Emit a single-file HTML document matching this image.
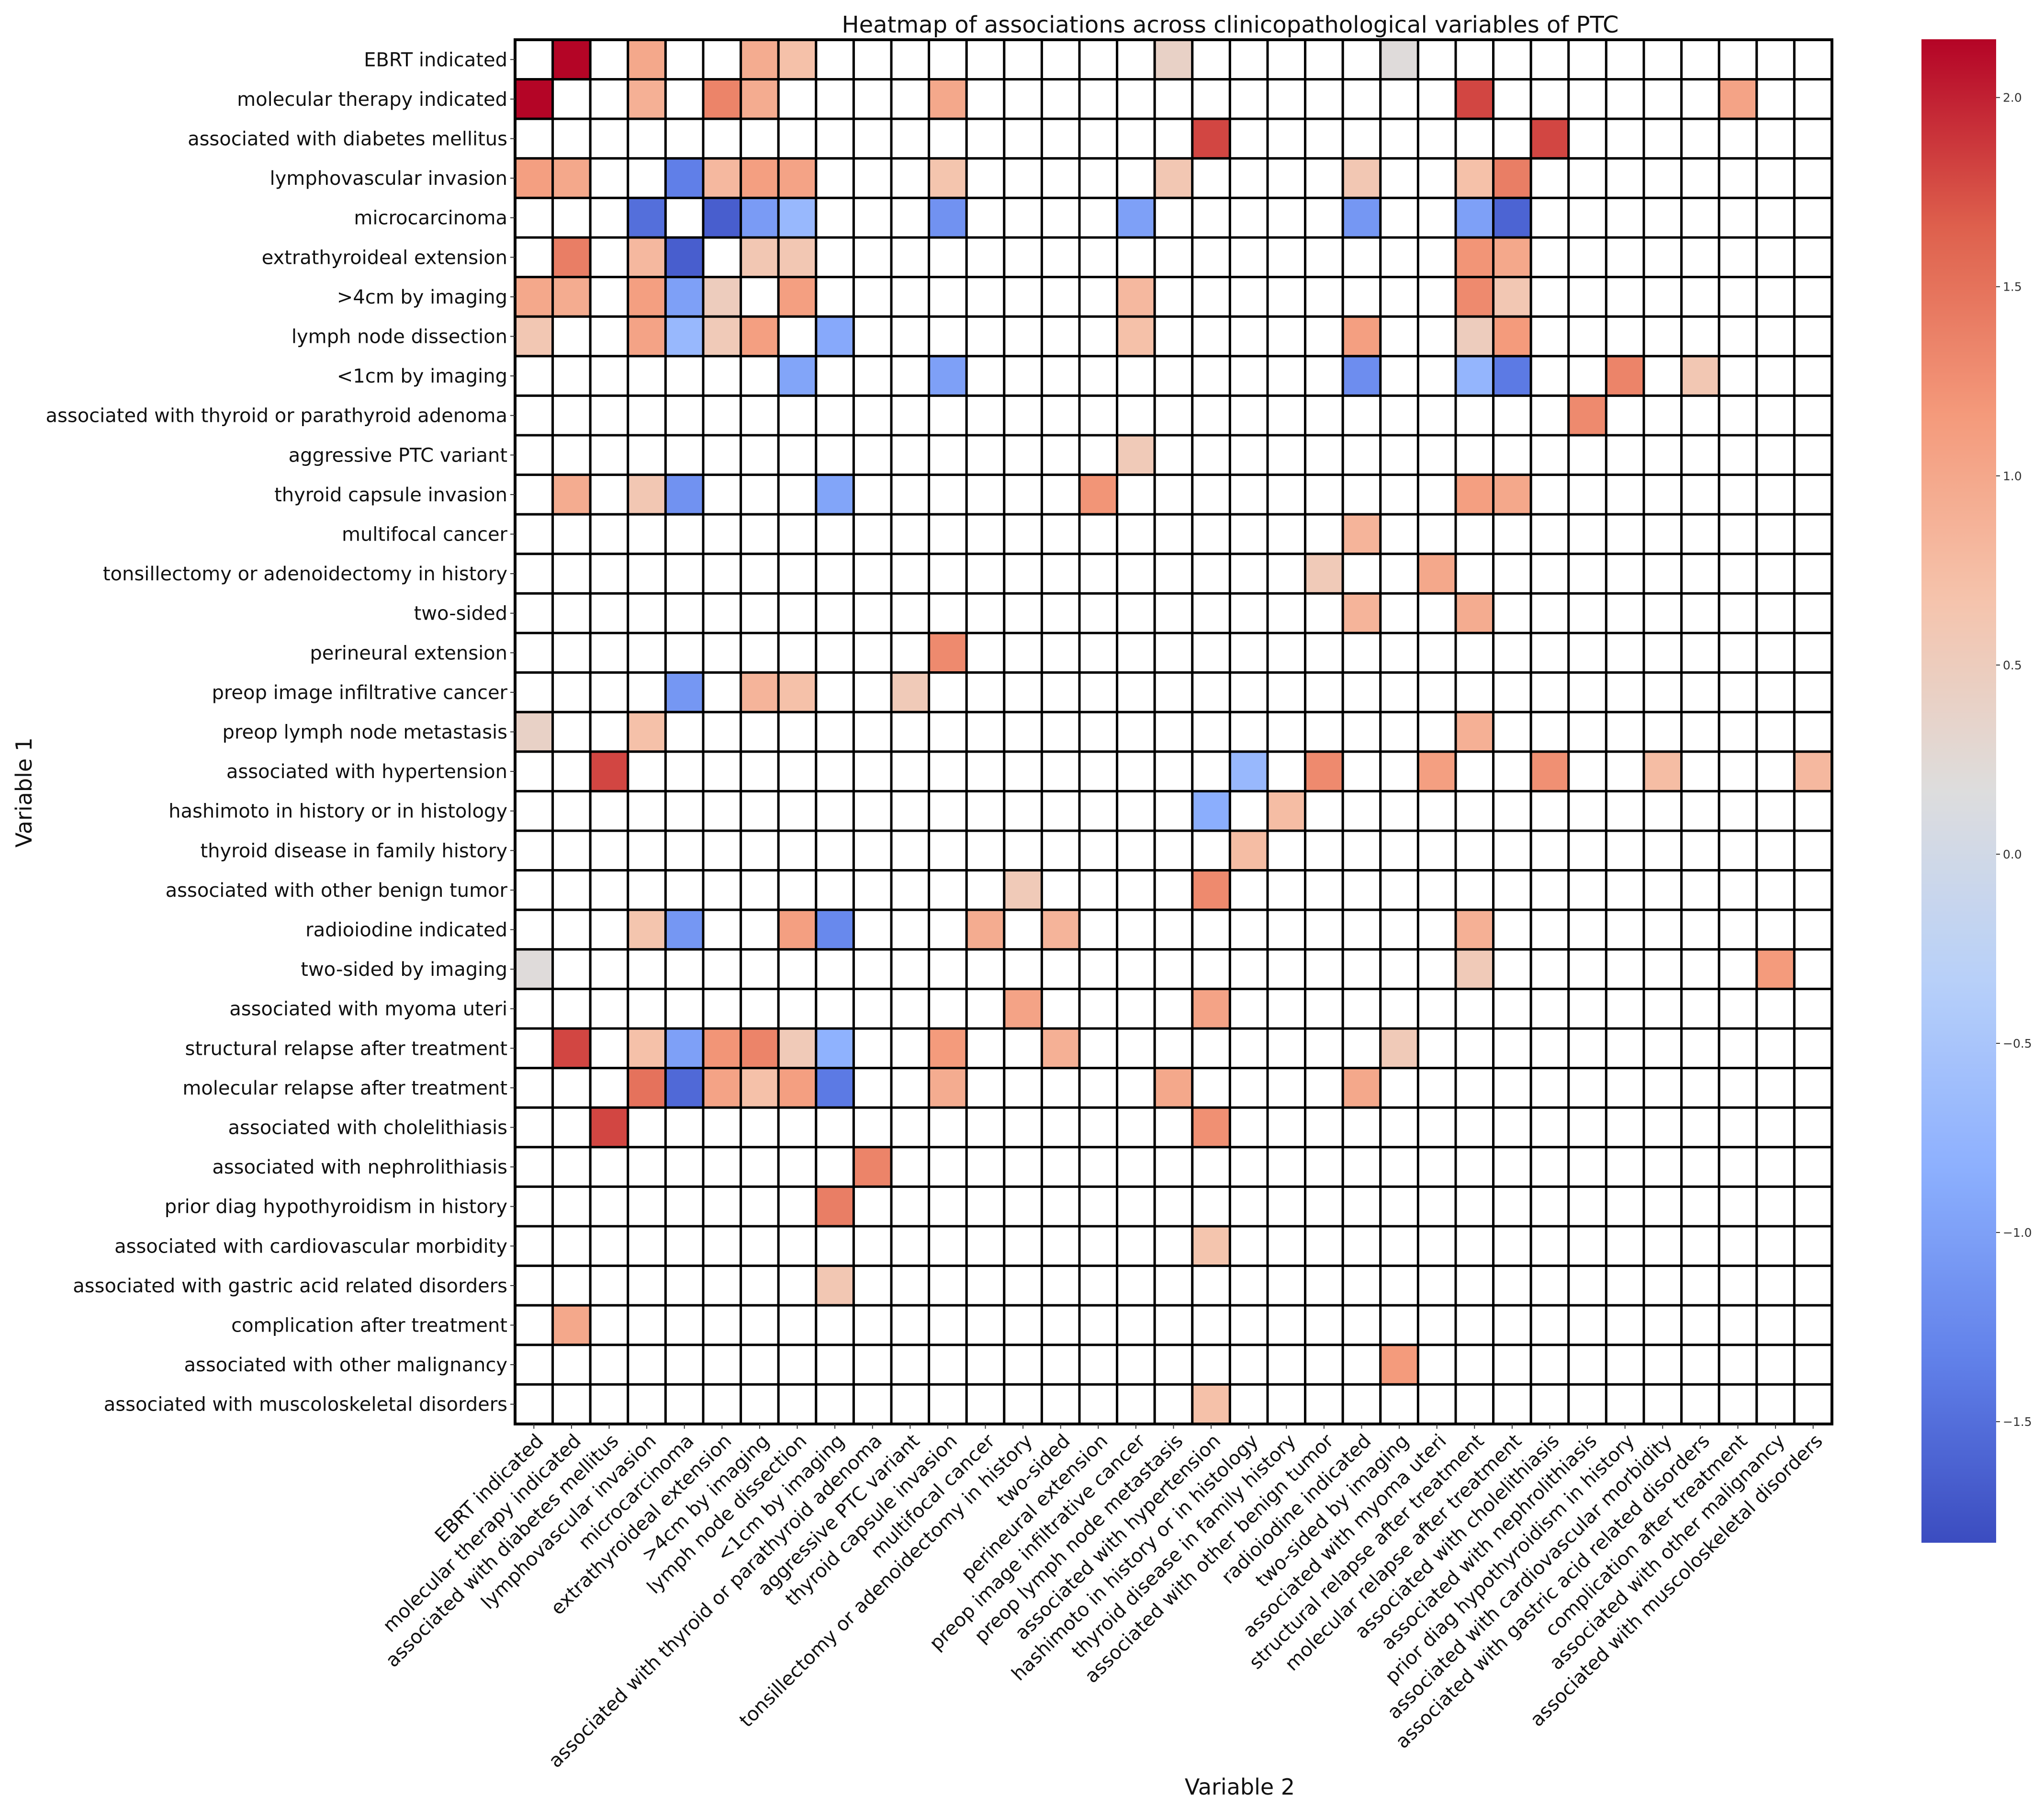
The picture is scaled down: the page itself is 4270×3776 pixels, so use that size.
<!DOCTYPE html>
<html><head><meta charset="utf-8">
<style>
html,body{margin:0;padding:0;background:#fff;}
svg{display:block;font-family:"DejaVu Sans","Liberation Sans",sans-serif;}
</style></head>
<body>
<svg id="chart" width="4270" height="3776" viewBox="0 0 4270 3776" xmlns="http://www.w3.org/2000/svg">
<text x="2570" y="68" font-size="48" text-anchor="middle" fill="#111">Heatmap of associations across clinicopathological variables of PTC</text>
<text x="2590" y="3748" font-size="46" text-anchor="middle" fill="#111">Variable 2</text>
<text x="0" y="0" font-size="46" text-anchor="middle" fill="#111" transform="translate(66,1655) rotate(-90)">Variable 1</text>
<g id="cells"></g>
<g id="ylabels"></g>
<g id="xlabels"></g>
<g id="cbar"></g>
</svg>
<script>
const labels = ["EBRT indicated","molecular therapy indicated","associated with diabetes mellitus","lymphovascular invasion","microcarcinoma","extrathyroideal extension",">4cm by imaging","lymph node dissection","<1cm by imaging","associated with thyroid or parathyroid adenoma","aggressive PTC variant","thyroid capsule invasion","multifocal cancer","tonsillectomy or adenoidectomy in history","two-sided","perineural extension","preop image infiltrative cancer","preop lymph node metastasis","associated with hypertension","hashimoto in history or in histology","thyroid disease in family history","associated with other benign tumor","radioiodine indicated","two-sided by imaging","associated with myoma uteri","structural relapse after treatment","molecular relapse after treatment","associated with cholelithiasis","associated with nephrolithiasis","prior diag hypothyroidism in history","associated with cardiovascular morbidity","associated with gastric acid related disorders","complication after treatment","associated with other malignancy","associated with muscoloskeletal disorders"];
// non-empty cells: row index, column index, value
const cellRows = [0,0,0,0,0,0, 1,1,1,1,1,1,1, 2,2, 3,3,3,3,3,3,3,3,3,3,3, 4,4,4,4,4,4,4,4,4, 5,5,5,5,5,5,5, 6,6,6,6,6,6,6,6,6, 7,7,7,7,7,7,7,7,7,7, 8,8,8,8,8,8,8, 9, 10, 11,11,11,11,11,11,11, 12, 13,13, 14,14, 15, 16,16,16,16, 17,17,17, 18,18,18,18,18,18,18, 19,19, 20, 21,21, 22,22,22,22,22,22,22, 23,23,23, 24,24, 25,25,25,25,25,25,25,25,25,25, 26,26,26,26,26,26,26,26,26, 27,27, 28, 29, 30, 31, 32, 33, 34];
const cellCols = [1,3,6,7,17,23, 0,3,5,6,11,25,32, 18,27, 0,1,4,5,6,7,11,17,22,25,26, 3,5,6,7,11,16,22,25,26, 1,3,4,6,7,25,26, 0,1,3,4,5,7,16,25,26, 0,3,4,5,6,8,16,22,25,26, 7,11,22,25,26,29,31, 28, 16, 1,3,4,8,15,25,26, 22, 21,24, 22,25, 11, 4,6,7,10, 0,3,25, 2,19,21,24,27,30,34, 18,20, 19, 13,18, 3,4,7,8,12,14,25, 0,25,33, 13,18, 1,3,4,5,6,7,8,11,14,23, 3,4,5,6,7,8,11,17,22, 2,18, 9, 8, 18, 8, 1, 23, 18];
const cellValues = [2.15,1.0,0.95,0.7,0.4,0.2, 2.15,0.9,1.35,0.95,1.0,1.8,1.05, 1.8,1.8, 1.1,1.0,-1.35,0.8,1.1,1.05,0.65,0.6,0.6,0.7,1.4, -1.5,-1.65,-1.05,-0.7,-1.15,-1.0,-1.1,-1.0,-1.6, 1.4,0.8,-1.65,0.6,0.6,1.2,1.0, 1.0,0.95,1.1,-1.0,0.5,1.1,0.8,1.3,0.6, 0.6,1.05,-0.7,0.55,1.1,-0.9,0.7,1.1,0.5,1.15, -0.95,-1.0,-1.2,-0.75,-1.4,1.35,0.6, 1.3, 0.55, 0.95,0.6,-1.15,-0.95,1.2,1.1,1.0, 0.85, 0.55,1.0, 0.85,0.95, 1.3, -1.1,0.85,0.7,0.55, 0.4,0.7,0.9, 1.8,-0.7,1.3,1.1,1.25,0.75,0.8, -0.85,0.75, 0.75, 0.55,1.3, 0.65,-1.1,1.1,-1.25,0.95,0.85,0.9, 0.2,0.55,1.15, 1.05,1.05, 1.8,0.7,-1.0,1.2,1.35,0.55,-0.8,1.15,0.9,0.55, 1.5,-1.55,1.05,0.7,1.1,-1.4,0.95,1.0,1.0, 1.8,1.25, 1.35, 1.4, 0.65, 0.6, 1.0, 1.15, 0.7];
const cbTicks = [2.0,1.5,1.0,0.5,0.0,-0.5,-1.0,-1.5];
const cbTickLabels = ["2.0","1.5","1.0","0.5","0.0","\u22120.5","\u22121.0","\u22121.5"];

const NS="http://www.w3.org/2000/svg";
const VMIN=-1.82, VMAX=2.154;
const GX0=1076, GX1=3827, GY0=83, GY1=2974, N=labels.length;
const CW=(GX1-GX0)/N, CH=(GY1-GY0)/N;
const CBX=4014, CBW=156, CBY0=82, CBY1=3222;
const xScale = i => GX0 + i*CW;
const yScale = i => GY0 + i*CH;
const cbY = v => CBY0 + (VMAX - v)/(VMAX-VMIN)*(CBY1-CBY0);
const stops=[[59,76,192],[98,130,234],[141,176,254],[184,208,249],[221,221,221],[245,196,173],[244,154,123],[222,96,77],[180,4,38]];
function cmap(v){
  let t=(v-VMIN)/(VMAX-VMIN); t=Math.max(0,Math.min(1,t));
  const p=t*(stops.length-1), i=Math.min(stops.length-2,Math.floor(p)), f=p-i;
  const c=stops[i].map((a,k)=>Math.round(a+(stops[i+1][k]-a)*f));
  return `rgb(${c[0]},${c[1]},${c[2]})`;
}
function mk(tag, attrs, parent){const e=document.createElementNS(NS,tag);for(const k in attrs)e.setAttribute(k,attrs[k]);parent.appendChild(e);return e;}

const grid=Array.from({length:N},()=>Array(N).fill(null));
for(let k=0;k<cellValues.length;k++) grid[cellRows[k]][cellCols[k]]=cellValues[k];

const gc=document.getElementById('cells');
for(let r=0;r<N;r++){for(let c=0;c<N;c++){
  const v=grid[r][c];
  const rect=mk('rect',{x:xScale(c),y:yScale(r),width:CW,height:CH,fill:v===null?'#ffffff':cmap(v),stroke:'#000',"stroke-width":5},gc);
  
  
}}
const outline=mk('rect',{x:GX0,y:GY0,width:GX1-GX0,height:GY1-GY0,fill:'none',stroke:'#000',"stroke-width":6},gc);



const gy=document.getElementById('ylabels');
labels.forEach((l,i)=>{
  const y=yScale(i)+CH/2;
  mk('line',{x1:GX0-10,x2:GX0,y1:y,y2:y,stroke:'#333',"stroke-width":2},gy);
  const t=mk('text',{x:GX0-16,y:y+14,"font-size":40,"text-anchor":"end",fill:'#111'},gy);
  t.textContent=l;
  
  
});
const gxl=document.getElementById('xlabels');
labels.forEach((l,i)=>{
  const x=xScale(i)+CW/2;
  mk('line',{x1:x,x2:x,y1:GY1,y2:GY1+10,stroke:'#333',"stroke-width":2},gxl);
  const t=mk('text',{x:0,y:0,"font-size":40,"text-anchor":"end",fill:'#111',transform:`translate(${x+22},${GY1+38}) rotate(-45)`},gxl);
  t.textContent=l;
  
  
});

const gcb=document.getElementById('cbar');
const defs=mk('defs',{},gcb);
const lg=mk('linearGradient',{id:'cbg',x1:0,y1:1,x2:0,y2:0},defs);
for(let s=0;s<=40;s++){const v=VMIN+(VMAX-VMIN)*s/40;mk('stop',{offset:s/40,"stop-color":cmap(v)},lg);}
const cbr=mk('rect',{x:CBX,y:CBY0,width:CBW,height:CBY1-CBY0,fill:'url(#cbg)'},gcb);


cbTicks.forEach((v,i)=>{
  const y=cbY(v);
  mk('line',{x1:CBX+CBW,x2:CBX+CBW+8,y1:y,y2:y,stroke:'#333',"stroke-width":2},gcb);
  const t=mk('text',{x:CBX+CBW+14,y:y+9,"font-size":25,fill:'#333'},gcb);
  t.textContent=cbTickLabels[i];
  
  
});
</script>
</body></html>
